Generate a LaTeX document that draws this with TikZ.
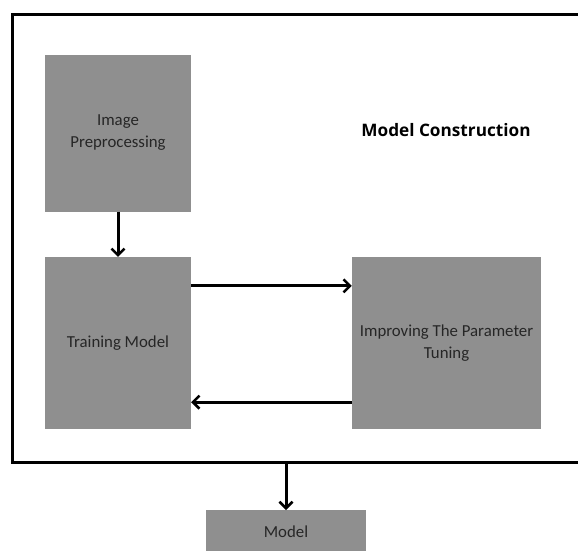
\documentclass[tikz,border=0pt]{standalone}
\usepackage{fontspec}
\setmainfont{Carlito}
\newfontfamily\titlefont{Open Sans}
\usetikzlibrary{arrows.meta}
\definecolor{boxgrey}{HTML}{8F8F8F}
\definecolor{txtgrey}{HTML}{262626}
\tikzset{
  gbox/.style={fill=boxgrey, draw=none, text=txtgrey, align=center, inner sep=0pt, font=\fontsize{16.8}{22}\selectfont},
  conn/.style={line width=3pt, -{Straight Barb[length=6.5pt,width=13pt,line width=2.5pt]}},
}
\begin{document}
\begin{tikzpicture}[x=1pt,y=-1pt]
\useasboundingbox (0,0) rectangle (578,550);
\fill[white] (0,0) rectangle (578,550);
\node[draw=black, line width=3pt, minimum width=568pt, minimum height=448pt, inner sep=0pt] (frame) at (296,238) {};
\node[gbox, minimum width=146pt, minimum height=157pt] (ip) at (118,133) {Image\\Preprocessing};
\node[gbox, minimum width=146pt, minimum height=172pt] (tm) at (118,343) {Training Model};
\node[gbox, minimum width=189pt, minimum height=172pt] (pt) at (446.5,343) {Improving The Parameter\\Tuning};
\node[gbox, minimum width=160pt, minimum height=44pt, anchor=north] (model) at (286,510) {\raisebox{-1pt}{Model}};
\node[font=\titlefont\bfseries\fontsize{17.2}{20}\selectfont, text=black] (title) at (446,130) {Model Construction};
\draw[conn] (ip.south) -- (tm.north);
\draw[conn] ([yshift=-29pt]tm.north east) -- ([yshift=-29pt]pt.north west);
\draw[conn] ([yshift=27pt]pt.south west) -- ([yshift=27pt]tm.south east);
\draw[conn] (model.north |- frame.south) -- (model.north);
\end{tikzpicture}
\end{document}
